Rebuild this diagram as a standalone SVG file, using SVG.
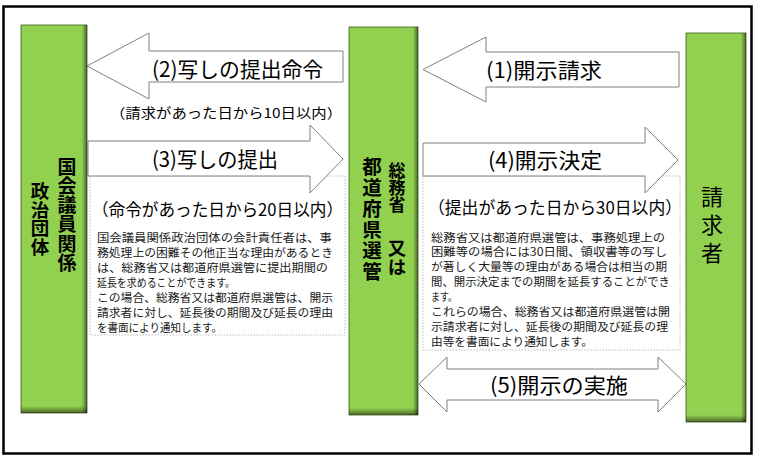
<svg xmlns="http://www.w3.org/2000/svg" width="760" height="462" viewBox="0 0 760 462">
<defs>
<style>
.bar{fill:#92D050;stroke:#3d5a1e;stroke-width:0.8}
.arrow{fill:#fff;stroke:#808080;stroke-width:1}
.lbl{font-family:"Noto Sans CJK JP","Noto Sans",sans-serif;font-size:21px;fill:#000}
.par{font-family:"Noto Sans CJK JP","Noto Sans",sans-serif;font-size:17px;fill:#000}
.small{font-family:"Noto Sans CJK JP","Noto Sans",sans-serif;font-size:11.6px;fill:#1a1a1a}
.vt{font-family:"Noto Sans CJK JP",sans-serif;font-weight:bold;fill:#000;writing-mode:vertical-rl;text-anchor:start}
.note{fill:#fff;stroke:#bdbdbd;stroke-width:1;stroke-dasharray:1.5 1.5}
</style>
<linearGradient id="shB" x1="0" y1="0" x2="0" y2="1">
<stop offset="0" stop-color="#000" stop-opacity="0"/>
<stop offset="1" stop-color="#000" stop-opacity="0.5"/>
</linearGradient>
<linearGradient id="shR" x1="0" y1="0" x2="1" y2="0">
<stop offset="0" stop-color="#000" stop-opacity="0"/>
<stop offset="1" stop-color="#000" stop-opacity="0.5"/>
</linearGradient>
</defs>
<rect width="760" height="462" fill="#fff"/>
<rect x="3.5" y="6.5" width="748" height="447" fill="none" stroke="#000" stroke-width="2.5"/>

<g id="connectors">
<g id="arrow2">
<path class="arrow" d="M87,66 L149,33 L149,51 L343,51 L343,82 L149,82 L149,99 Z"/>
<text class="lbl" x="152" y="77" textLength="171" lengthAdjust="spacingAndGlyphs">(2)写しの提出命令</text>
<text class="lbl" x="110" y="118" style="font-size:13.5px" textLength="232" lengthAdjust="spacingAndGlyphs">（請求があった日から10日以内）</text>
</g>
<g id="arrow1">
<path class="arrow" d="M423,69.5 L486,37 L486,52 L679,52 L679,87 L486,87 L486,102 Z"/>
<text class="lbl" x="486" y="78" textLength="116" lengthAdjust="spacingAndGlyphs">(1)開示請求</text>
</g>
<g id="arrow3">
<rect class="note" x="90" y="176" width="255" height="159"/>
<path class="arrow" d="M88,141 L310,141 L310,125 L343,159 L310,193 L310,176 L88,176 Z"/>
<text class="lbl" x="152" y="167" textLength="126" lengthAdjust="spacingAndGlyphs">(3)写しの提出</text>
<text class="par" x="92" y="216" textLength="251" lengthAdjust="spacingAndGlyphs">（命令があった日から20日以内）</text>
<text class="small">
<tspan x="97" y="241.5" textLength="235" lengthAdjust="spacingAndGlyphs">国会議員関係政治団体の会計責任者は、事</tspan>
<tspan x="97" y="256.5" textLength="236" lengthAdjust="spacingAndGlyphs">務処理上の困難その他正当な理由があるとき</tspan>
<tspan x="97" y="271.5" textLength="231" lengthAdjust="spacingAndGlyphs">は、総務省又は都道府県選管に提出期間の</tspan>
<tspan x="97" y="286.5" textLength="138" lengthAdjust="spacingAndGlyphs">延長を求めることができます。</tspan>
<tspan x="97" y="301.5" textLength="236" lengthAdjust="spacingAndGlyphs">この場合、総務省又は都道府県選管は、開示</tspan>
<tspan x="97" y="316.5" textLength="236" lengthAdjust="spacingAndGlyphs">請求者に対し、延長後の期間及び延長の理由</tspan>
<tspan x="97" y="331.5" textLength="125" lengthAdjust="spacingAndGlyphs">を書面により通知します。</tspan>
</text>
</g>
<g id="arrow4">
<rect class="note" x="423" y="176" width="257" height="174"/>
<path class="arrow" d="M423,143 L645,143 L645,127 L678,160 L645,193 L645,176 L423,176 Z"/>
<text class="lbl" x="488" y="168" textLength="114" lengthAdjust="spacingAndGlyphs">(4)開示決定</text>
<text class="par" x="428" y="214" textLength="254" lengthAdjust="spacingAndGlyphs">（提出があった日から30日以内）</text>
<text class="small">
<tspan x="431" y="241.5" textLength="234" lengthAdjust="spacingAndGlyphs">総務省又は都道府県選管は、事務処理上の</tspan>
<tspan x="431" y="256.4" textLength="236" lengthAdjust="spacingAndGlyphs">困難等の場合には30日間、領収書等の写し</tspan>
<tspan x="431" y="271.3" textLength="236" lengthAdjust="spacingAndGlyphs">が著しく大量等の理由がある場合は相当の期</tspan>
<tspan x="431" y="286.2" textLength="239" lengthAdjust="spacingAndGlyphs">間、開示決定までの期間を延長することができ</tspan>
<tspan x="431" y="301.1" textLength="26" lengthAdjust="spacingAndGlyphs">ます。</tspan>
<tspan x="431" y="316" textLength="239" lengthAdjust="spacingAndGlyphs">これらの場合、総務省又は都道府県選管は開</tspan>
<tspan x="431" y="330.9" textLength="237" lengthAdjust="spacingAndGlyphs">示請求者に対し、延長後の期間及び延長の理</tspan>
<tspan x="431" y="345.8" textLength="162" lengthAdjust="spacingAndGlyphs">由等を書面により通知します。</tspan>
</text>
</g>
<g id="arrow5">
<path class="arrow" d="M419,384 L447,357 L447,369 L658,369 L658,357 L686,384 L658,412 L658,400 L447,400 L447,412 Z"/>
<text class="lbl" x="490" y="393" textLength="138" lengthAdjust="spacingAndGlyphs">(5)開示の実施</text>
</g>
</g>

<g id="node-party">
<rect class="bar" x="21" y="25" width="66" height="388"/>
<rect x="21" y="406" width="66" height="7" fill="url(#shB)"/>
<rect x="82" y="25" width="5" height="388" fill="url(#shR)"/>
<text class="vt" x="67" y="157" style="font-size:19px;letter-spacing:0.2px">国会議員関係</text>
<text class="vt" x="40" y="182" style="font-size:18.5px">政治団体</text>
</g>

<g id="node-ministry">
<rect class="bar" x="349" y="27" width="69" height="388"/>
<rect x="349" y="408" width="69" height="7" fill="url(#shB)"/>
<rect x="413" y="27" width="5" height="388" fill="url(#shR)"/>
<text class="vt" x="372" y="157" style="font-size:19.5px;letter-spacing:1.5px">都道府県選管</text>
<text class="vt" x="397" y="162" style="font-size:17px">総務省</text>
<text class="vt" x="397" y="239" style="font-size:18.5px">又は</text>
</g>

<g id="node-requester">
<rect class="bar" x="686" y="33" width="60" height="389"/>
<rect x="686" y="415" width="60" height="7" fill="url(#shB)"/>
<rect x="741" y="33" width="5" height="389" fill="url(#shR)"/>
<text class="vt" x="712" y="186" style="font-size:22px;font-weight:normal;letter-spacing:6px">請求者</text>
</g>
</svg>
